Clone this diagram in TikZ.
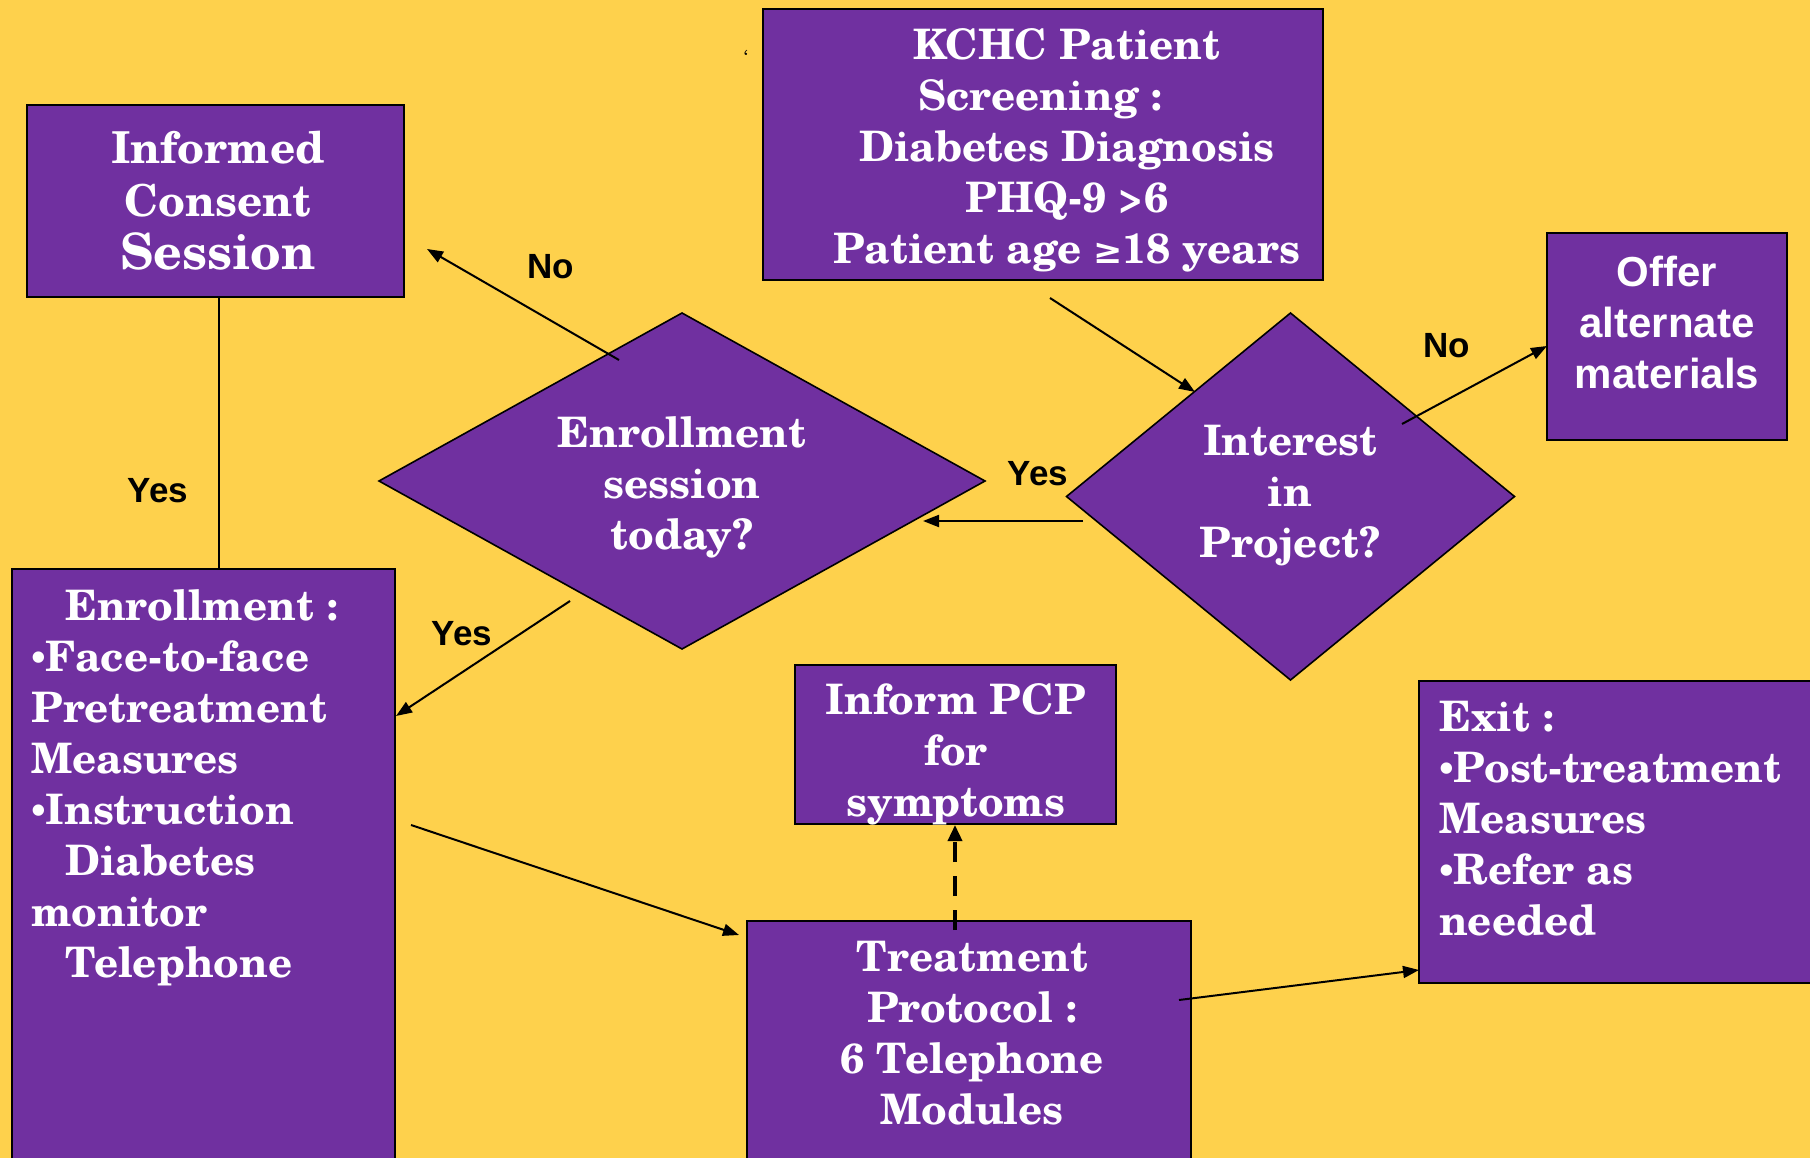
\documentclass[tikz,border=0pt]{standalone}
\usepackage{fontspec}
\setmainfont{texgyreschola-regular}[Extension=.otf, BoldFont=texgyreschola-bold]
\newfontfamily\labelsans{Liberation Sans}
\newfontfamily\bulletserif{Liberation Serif}
\newfontfamily\symserif{DejaVu Serif}
\usetikzlibrary{shapes.geometric,arrows.meta}
\definecolor{bgyellow}{RGB}{254,209,76}
\definecolor{boxpurple}{RGB}{112,48,160}
\newcommand{\geqsym}{{\symserif\bfseries\fontsize{35}{51}\selectfont ≥}}
\newcommand{\dotmark}{{\bulletserif\bfseries •}}
\begin{document}
\begin{tikzpicture}[x=1pt,y=-1pt,
  panel/.style={rectangle, draw=black, line width=2pt, fill=boxpurple,
    inner sep=0pt, outer sep=0pt, anchor=north west},
  decision/.style={diamond, draw=black, line width=1.6pt, fill=boxpurple,
    inner sep=0pt, outer sep=0pt},
  boxtext/.style={text=white, inner sep=0pt, font=\bfseries\fontsize{42}{51}\selectfont},
  sanstext/.style={text=white, inner sep=0pt, font=\labelsans\bfseries\fontsize{42}{51}\selectfont},
  answer/.style={text=black, inner sep=0pt, font=\labelsans\bfseries\fontsize{35}{40}\selectfont},
  conn/.style={draw=black, line width=2pt, -{Triangle[length=16pt,width=12pt]}},
  plain/.style={draw=black, line width=2pt},
  dashconn/.style={draw=black, line width=3.5pt, dash pattern=on 20pt off 14pt,
    -{Triangle[length=16pt,width=14pt]}}
]
% page and background
\useasboundingbox (0,0) rectangle (1810,1158);
\clip (0,0) rectangle (1810,1158);
\fill[bgyellow] (0,0) rectangle (1810,1158);

% boxes
\node[panel, minimum width=560pt, minimum height=271pt] (kchc) at (763,9) {};
\node[panel, minimum width=377pt, minimum height=192pt] (consent) at (27,105) {};
\node[panel, minimum width=240pt, minimum height=207pt] (offer) at (1547,233) {};
\node[panel, minimum width=383pt, minimum height=640pt] (enrol) at (12,569) {};
\node[panel, minimum width=321pt, minimum height=159pt] (pcp) at (795,665) {};
\node[panel, minimum width=444pt, minimum height=280pt] (treat) at (747,921) {};
\node[panel, minimum width=440pt, minimum height=302pt] (exit) at (1419,681) {};

% decisions
\node[decision, minimum width=606pt, minimum height=336pt] (today) at (682,481) {};
\node[decision, minimum width=448pt, minimum height=367pt] (interest) at (1290.5,496.5) {};

% box texts
\node[boxtext, align=center] (kchc-t) at (1067,150)
  {KCHC Patient\\Screening :\kern53pt\\Diabetes Diagnosis\\PHQ-9 >6\\Patient age \geqsym18 years};
\node[boxtext, align=center, font=\bfseries\fontsize{44}{53}\selectfont] (consent-t) at (218,201)
  {Informed\\Consent\\{\fontsize{50}{53}\selectfont Session}};
\node[sanstext, align=center] (offer-t) at (1667,322) {Offer\\alternate\\materials};
\node[boxtext, align=center] (today-t) at (682,487) {Enrollment\\session\\today?};
\node[boxtext, align=center] (interest-t) at (1290,496) {Interest\\in\\Project?};
\node[boxtext, align=left, anchor=north west] (enrol-t) at (31,589)
  {\hspace*{34pt}Enrollment :\\\dotmark Face-to-face\\Pretreatment\\Measures\\\dotmark Instruction\\
   \hspace*{34pt}Diabetes\\monitor\\\hspace*{34pt}Telephone};
\node[boxtext, align=center] (pcp-t) at (956,754) {Inform PCP\\for\\symptoms};
\node[boxtext, align=center] (treat-t) at (972,1033) {Treatment\\Protocol :\\6 Telephone\\Modules};
\node[boxtext, align=left, anchor=north west] (exit-t) at (1439,701)
  {Exit :\\\dotmark Post-treatment\\Measures\\\dotmark Refer as\\needed};

% stray mark
\node[inner sep=0pt, font=\fontsize{18}{18}\selectfont] (mark) at (746,57) {`};

% connector end points
\coordinate (a1) at (1050,298);  \coordinate (a2) at (1195,392);
\coordinate (b1) at (1402,424);  \coordinate (b2) at (offer.west |- 0,346);
\coordinate (c1) at (1083,521);  \coordinate (c2) at (923,521);
\coordinate (d1) at (619,360);   \coordinate (d2) at (427,249);
\coordinate (e1) at (219,297);   \coordinate (e2) at (219,569);
\coordinate (f1) at (570,601);   \coordinate (f2) at (396,716);
\coordinate (g1) at (411,825);   \coordinate (g2) at (739,935);
\coordinate (h1) at (955,930);   \coordinate (h2) at (955,825);
\coordinate (i1) at (1179,1000); \coordinate (i2) at (1419,970);

% connectors
\draw[conn] (a1) -- (a2);
\draw[conn] (b1) -- (b2);
\draw[conn] (c1) -- (c2);
\draw[conn] (d1) -- (d2);
\draw[plain] (e1) -- (e2);
\draw[conn] (f1) -- (f2);
\draw[conn] (g1) -- (g2);
\draw[dashconn] (h1) -- (h2);
\draw[conn] (i1) -- (i2);

% answers
\node[answer] (no1) at (551,267) {No};
\node[answer] (no2) at (1447,346) {No};
\node[answer] (yes1) at (1038,474) {Yes};
\node[answer] (yes2) at (158,491) {Yes};
\node[answer] (yes3) at (462,634) {Yes};
\end{tikzpicture}
\end{document}
